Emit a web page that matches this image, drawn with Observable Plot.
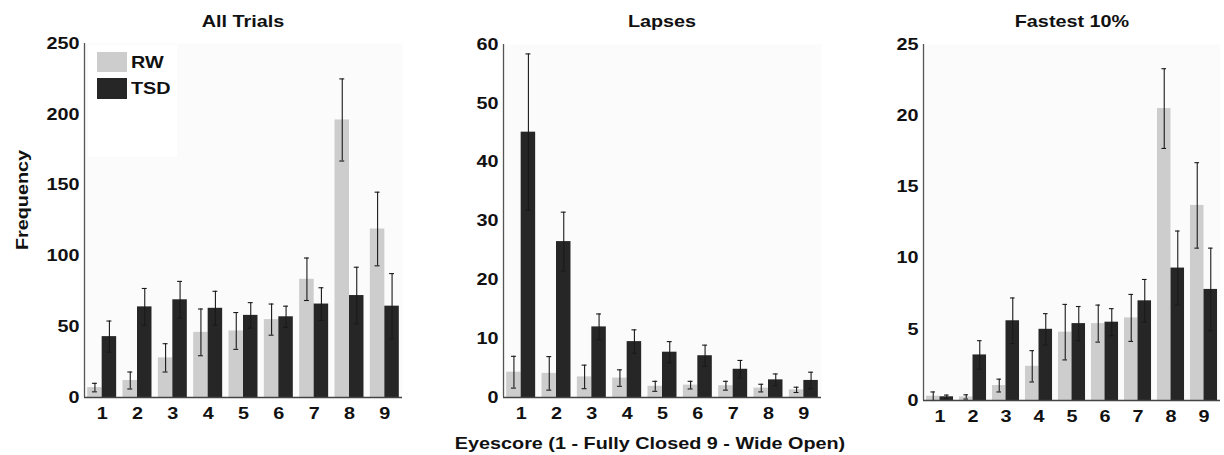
<!DOCTYPE html>
<html>
<head>
<meta charset="utf-8">
<script src="https://cdn.jsdelivr.net/npm/d3@7"></script>
<script src="https://cdn.jsdelivr.net/npm/@observablehq/plot@0.6"></script>
<style>
  body { margin: 0; background: #fff; }
  #fig { position: relative; width: 1224px; height: 455px; overflow: hidden;
         font-family: "Liberation Sans", Arial, sans-serif; font-weight: bold; color: #111; }
  #fig svg { position: absolute; top: 0; }
  .lbl { position: absolute; white-space: nowrap; transform: translate(-50%, -50%) scaleX(1.2); font-size: 16.5px; }
  .legend { position: absolute; left: 88px; top: 45px; width: 89px; height: 112px; background: #fff; }
  .sw { position: absolute; left: 9px; width: 30px; }
  .lt { position: absolute; left: 43px; font-size: 16.5px; line-height: 20px; transform: scaleX(1.2); transform-origin: left center; }
</style>
</head>
<body>
<div id="fig"></div>
<script>
// Eyescore categories (1 = fully closed, 9 = wide open)
const scores = [1, 2, 3, 4, 5, 6, 7, 8, 9];
const groups = ["RW", "TSD"];
const colors = ["#cdcdcd", "#262626"];

// All trials: mean frequency and standard error
const allTrialsRW     = [7, 12, 28, 46, 47, 55, 83.5, 196, 119];
const allTrialsRWErr  = [3, 6, 10, 16.5, 13, 11, 15, 29, 26];
const allTrialsTSD    = [43, 64, 69, 63, 58, 57, 66, 72, 64.5];
const allTrialsTSDErr = [11, 13, 13, 12, 9, 7.5, 11.5, 20, 23];

// Lapses
const lapsesRW     = [4.3, 4.1, 3.5, 3.3, 1.9, 2.1, 2.0, 1.6, 1.3];
const lapsesRWErr  = [2.7, 2.85, 2.0, 1.4, 0.85, 0.65, 0.75, 0.65, 0.45];
const lapsesTSD    = [45.1, 26.5, 12, 9.5, 7.7, 7.1, 4.8, 3.0, 2.9];
const lapsesTSDErr = [13.3, 5, 2.2, 2, 1.8, 1.8, 1.5, 1.0, 1.4];

// Fastest 10% of responses
const fastestRW     = [0.3, 0.25, 1.05, 2.4, 4.8, 5.4, 5.8, 20.5, 13.7];
const fastestRWErr  = [0.3, 0.15, 0.45, 1.1, 1.95, 1.3, 1.65, 2.8, 3.0];
const fastestTSD    = [0.26, 3.2, 5.6, 5.0, 5.4, 5.5, 7.0, 9.3, 7.8];
const fastestTSDErr = [0.12, 1.0, 1.6, 1.1, 1.2, 0.95, 1.5, 2.6, 2.9];

const yTicksAll = [0, 50, 100, 150, 200, 250];
const yTicksLapses = [0, 10, 20, 30, 40, 50, 60];
const yTicksFastest = [0, 5, 10, 15, 20, 25];

const half = 0.41;   // width of one bar, in eyescore units
const cap = 0.07;    // half-width of error-bar caps
const stretch = 1.2; // horizontal widening of the bold lettering

function rows(rw, rwErr, tsd, tsdErr) {
  const out = [];
  scores.forEach((s, i) => {
    out.push({score: s, group: "RW", value: rw[i], err: rwErr[i], x1: s - half, x2: s, xc: s - half / 2});
    out.push({score: s, group: "TSD", value: tsd[i], err: tsdErr[i], x1: s, x2: s + half, xc: s + half / 2});
  });
  return out;
}

// widen tick labels about their own anchor point
function widenTickLabels(svg) {
  svg.querySelectorAll('g[aria-label$="tick label"] text').forEach(t => {
    const tr = t.getAttribute("transform") || "";
    t.setAttribute("transform", tr + ` scale(${stretch},1)`);
  });
}

function panel({data, yTicks, left, width, marginLeft, marginRight, marginTop, marginBottom}) {
  const svg = Plot.plot({
    width, height: 455,
    marginLeft, marginRight, marginTop, marginBottom,
    style: {fontFamily: "Liberation Sans, Arial, sans-serif", fontSize: "16.5px", fontWeight: "bold", color: "#111", background: "transparent"},
    x: {domain: [0.5, 9.5], ticks: scores, tickSize: 0, tickPadding: 10, tickFormat: d3.format("d"), label: null},
    y: {domain: [0, yTicks[yTicks.length - 1]], ticks: yTicks, tickSize: 0, tickPadding: 5, tickFormat: d3.format("d"), label: null},
    color: {domain: groups, range: colors},
    marks: [
      Plot.frame({fill: "#fbfbfb", stroke: null}),
      Plot.rectY(data, {x1: "x1", x2: "x2", y: "value", fill: "group"}),
      Plot.ruleX(data, {x: "xc", y1: d => Math.max(0, d.value - d.err), y2: d => d.value + d.err, stroke: "#1a1a1a", strokeWidth: 1.1}),
      Plot.ruleY(data, {y: d => d.value + d.err, x1: d => d.xc - cap, x2: d => d.xc + cap, stroke: "#1a1a1a", strokeWidth: 1.1}),
      Plot.ruleY(data, {y: d => Math.max(0, d.value - d.err), x1: d => d.xc - cap, x2: d => d.xc + cap, stroke: "#1a1a1a", strokeWidth: 1.1}),
      Plot.ruleY([0], {stroke: "#444", strokeWidth: 1.3}),
      Plot.ruleX([0.5], {stroke: "#555", strokeWidth: 1.3})
    ]
  });
  widenTickLabels(svg);
  svg.style.left = left + "px";
  return svg;
}

const fig = document.getElementById("fig");

fig.append(panel({data: rows(allTrialsRW, allTrialsRWErr, allTrialsTSD, allTrialsTSDErr), yTicks: yTicksAll,
  left: 0, width: 410, marginLeft: 84, marginRight: 8, marginTop: 43, marginBottom: 58}));
fig.append(panel({data: rows(lapsesRW, lapsesRWErr, lapsesTSD, lapsesTSDErr), yTicks: yTicksLapses,
  left: 410, width: 414, marginLeft: 93, marginRight: 3, marginTop: 44, marginBottom: 58}));
fig.append(panel({data: rows(fastestRW, fastestRWErr, fastestTSD, fastestTSDErr), yTicks: yTicksFastest,
  left: 824, width: 400, marginLeft: 99, marginRight: 4, marginTop: 44, marginBottom: 55}));

// Legend inside the first panel
const legend = document.createElement("div");
legend.className = "legend";
groups.forEach((g, i) => {
  const sw = document.createElement("div");
  sw.className = "sw";
  sw.style.top = (7 + i * 26) + "px";
  sw.style.height = (i ? 21 : 20) + "px";
  sw.style.background = colors[i];
  const t = document.createElement("div");
  t.className = "lt";
  t.style.top = (7 + i * 26) + "px";
  t.textContent = g;
  legend.append(sw, t);
});
fig.append(legend);

// Panel titles and shared axis labels
function label(text, x, y, rotate) {
  const el = document.createElement("div");
  el.className = "lbl";
  el.textContent = text;
  el.style.left = x + "px";
  el.style.top = y + "px";
  if (rotate) el.style.transform = `translate(-50%, -50%) rotate(-90deg) scaleX(${stretch})`;
  fig.append(el);
}
label("All Trials", 243, 21);
label("Lapses", 662, 21);
label("Fastest 10%", 1072, 21);
label("Frequency", 22, 200, true);
label("Eyescore (1 - Fully Closed 9 - Wide Open)", 650, 443);
</script>
</body>
</html>
